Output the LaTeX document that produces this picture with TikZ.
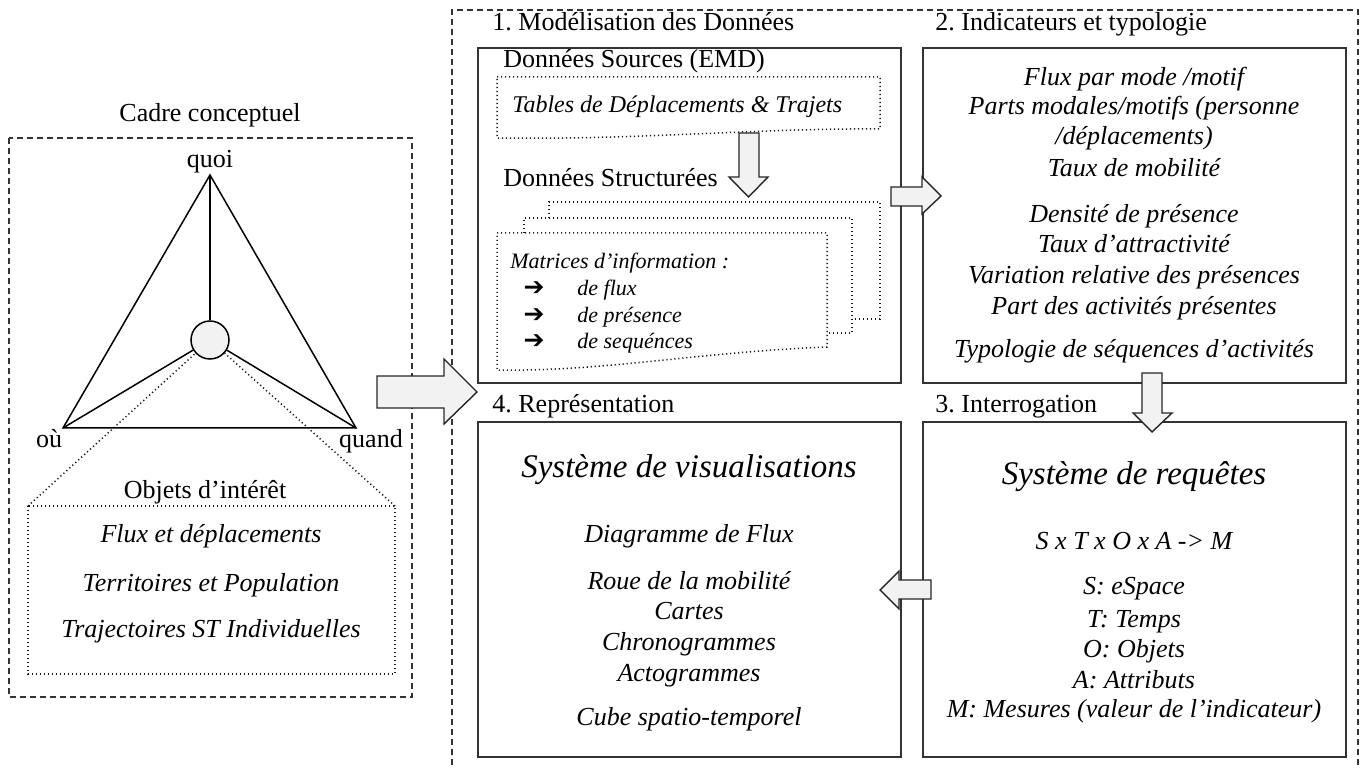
\documentclass[tikz,border=0pt]{standalone}
\usepackage{fontspec}
\setmainfont{Liberation Serif}
\newfontfamily\djv{DejaVu Sans}
\frenchspacing
\begin{document}
\begin{tikzpicture}[x=0.5pt,y=-0.5pt]
\tikzset{
  panel/.style={draw=black!80, line width=1pt},
  outerdash/.style={draw=black!80, line width=0.6pt, dash pattern=on 3pt off 2pt},
  dotline/.style={draw=black!90, line width=0.75pt, dash pattern=on 0.6pt off 1.4pt},
  tri/.style={draw=black, line width=0.75pt},
  blockarrow/.style={fill=black!5, draw=black!85, line width=0.7pt, line join=miter},
  ttl/.style={anchor=base west, inner sep=0pt, font=\fontsize{13}{15}\selectfont},
  ctr/.style={anchor=base, inner sep=0pt, font=\fontsize{13}{15}\selectfont},
  itl/.style={anchor=base, inner sep=0pt, font=\fontsize{13}{15}\selectfont\itshape},
  big/.style={anchor=base, inner sep=0pt, font=\fontsize{16.5}{19}\selectfont\itshape},
  small/.style={anchor=base west, inner sep=0pt, font=\fontsize{11}{13}\selectfont\itshape},
}
\useasboundingbox (0,0) rectangle (1365,769);

% ---------- left panel ----------
\node[ctr] (cadre) at (210,122) {Cadre conceptuel};
\draw[outerdash] (9,138) rectangle (412,697);
\coordinate (A) at (210,175);
\coordinate (L) at (63,428);
\coordinate (R) at (356,428);
\node[circle, draw=black, line width=0.75pt, fill=black!5, minimum size=38pt*0.5, inner sep=0pt] (c) at (210,340) {};
\draw[tri] (L) -- (A) -- (R) -- cycle;
\draw[tri] (A) -- (c);
\draw[tri] (c) -- (L);
\draw[tri] (c) -- (R);
\node[ctr] (quoi) at (210,168) {quoi};
\node[ctr] (ou) at (49,448) {où};
\node[ctr] (quand) at (371,448) {quand};
\coordinate (oTL) at (28,506);
\coordinate (oTR) at (395,506);
\coordinate (oBR) at (395,674);
\draw[dotline] (oTL) rectangle (oBR);
\draw[dotline] (oTL) -- (c);
\draw[dotline] (oTR) -- (c);
\node[ctr] (objets) at (205,499) {Objets d’intérêt};
\node[itl] (o1) at (211,543) {Flux et déplacements};
\node[itl] (o2) at (211,591) {Territoires et Population};
\node[itl] (o3) at (211,638) {Trajectoires ST Individuelles};

% ---------- right frame ----------
\draw[outerdash] (452,775) -- (452,10) -- (1358,10) -- (1358,775);

% box 1
\node[ttl] (t1) at (492,31) {1. Modélisation des Données};
\draw[panel] (478,48) rectangle (901,383);
\node[ttl] (src) at (503,68) {Données Sources (EMD)};
\draw[dotline] (497,77) -- (880,77) -- (880,129) .. controls (760,128) and (640,140) .. (497,138) -- cycle;
\node[anchor=base west, inner sep=0pt, font=\fontsize{12}{14}\selectfont\itshape] (tab) at (512,113) {Tables de Déplacements \& Trajets};
\node[ttl] (struct) at (503,187) {Données Structurées};
\draw[dotline] (549,218) -- (549,202) -- (880,202) -- (880,319) -- (852,319);
\draw[dotline] (524,233) -- (524,218) -- (852,218) -- (852,333) -- (827,333);
\draw[dotline] (497,233) -- (827,233) -- (827,347) .. controls (700,352) and (600,372) .. (497,370) -- cycle;
\node[small] (mat) at (510,269) {Matrices d’information :};
\foreach \y/\t [count=\i] in {296/de flux, 323/de présence, 349/de sequénces}{
  \node[anchor=base, inner sep=0pt, font=\djv\fontsize{12.5}{14}\selectfont\bfseries] (arr\i) at (534,\y) {➔};
  \node[small] (m\i) at (577,\y) {\t};
}

% box 2
\node[ttl] (t2) at (935,31) {2. Indicateurs et typologie};
\draw[panel] (923,48) rectangle (1346,383);
\foreach \y/\t [count=\i] in {86/{Flux par mode /motif}, 115/{Parts modales/motifs (personne}, 145/{/déplacements)}, 177/{Taux de mobilité}, 223/{Densité de présence}, 253/{Taux d’attractivité}, 284/{Variation relative des présences}, 315/{Part des activités présentes}, 358/{Typologie de séquences d’activités}}{
  \node[itl] (b2l\i) at (1134,\y) {\t};
}

% box 4
\node[ttl] (t4) at (492,413) {4. Représentation};
\draw[panel] (478,422) rectangle (901,757);
\node[big] (vis) at (689,478) {Système de visualisations};
\foreach \y/\t [count=\i] in {543/{Diagramme de Flux}, 589/{Roue de la mobilité}, 619/{Cartes}, 650/{Chronogrammes}, 681/{Actogrammes}, 725/{Cube spatio-temporel}}{
  \node[itl] (b4l\i) at (689,\y) {\t};
}

% box 3
\node[ttl] (t3) at (935,413) {3. Interrogation};
\draw[panel] (923,422) rectangle (1346,757);
\node[big] (req) at (1134,485) {Système de requêtes};
\foreach \y/\t [count=\i] in {550/{S x T x O x A -> M}, 595/{S: eSpace}, 627/{T: Temps}, 657/{O: Objets}, 688/{A: Attributs}, 717/{M: Mesures (valeur de l’indicateur)}}{
  \node[itl] (b3l\i) at (1134,\y) {\t};
}

% ---------- block arrows ----------
\draw[blockarrow] (377,376) -- (444,376) -- (444,359) -- (477,392) -- (444,424) -- (444,408) -- (377,408) -- cycle;
\draw[blockarrow] (891,187) -- (922,187) -- (922,177) -- (941,196) -- (922,214) -- (922,206) -- (891,206) -- cycle;
\draw[blockarrow] (739,133) -- (759,133) -- (759,177) -- (768,177) -- (748.5,197) -- (729,177) -- (739,177) -- cycle;
\draw[blockarrow] (1142,373) -- (1162,373) -- (1162,413) -- (1172,413) -- (1152,432) -- (1133,413) -- (1142,413) -- cycle;
\draw[blockarrow] (931,580) -- (931,599) -- (899,599) -- (899,609) -- (880,590) -- (899,571) -- (899,580) -- cycle;
\end{tikzpicture}
\end{document}
